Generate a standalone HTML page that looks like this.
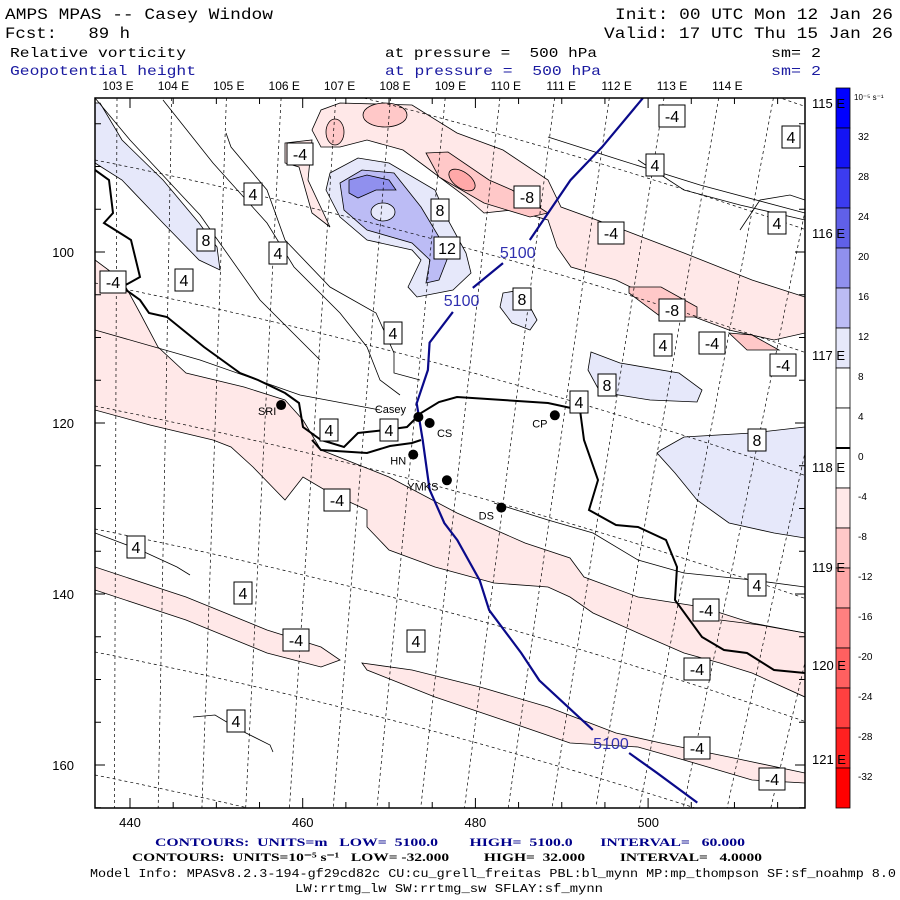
<!DOCTYPE html>
<html><head><meta charset="utf-8"><style>
html,body{margin:0;padding:0;background:#fff;width:900px;height:900px;overflow:hidden;position:relative;}
svg{display:block;position:absolute;left:0;top:0;}
svg text{white-space:pre;}
.mono{font-family:"Liberation Mono","DejaVu Sans Mono",monospace;}
.sans{font-family:"Liberation Sans",sans-serif;}
.serif{font-family:"Liberation Serif",serif;}
</style></head><body>
<svg id="chart" width="900" height="900" viewBox="0 0 900 900" xmlns="http://www.w3.org/2000/svg">
<defs><clipPath id="plotclip"><rect x="95" y="98" width="710" height="710"/></clipPath></defs>
<rect x="0" y="0" width="900" height="900" fill="#fff"/>

<g class="mono" font-size="16" fill="#000">
<text x="5" y="19" textLength="268" lengthAdjust="spacingAndGlyphs">AMPS MPAS -- Casey Window</text>
<text x="615" y="19" textLength="278" lengthAdjust="spacingAndGlyphs">Init: 00 UTC Mon 12 Jan 26</text>
<text x="5" y="38" textLength="125" lengthAdjust="spacingAndGlyphs">Fcst:   89 h</text>
<text x="604" y="38" textLength="289" lengthAdjust="spacingAndGlyphs">Valid: 17 UTC Thu 15 Jan 26</text>
</g>
<g class="mono" font-size="14">
<text x="10" y="57" textLength="176" lengthAdjust="spacingAndGlyphs">Relative vorticity</text>
<text x="385" y="57" textLength="212" lengthAdjust="spacingAndGlyphs">at pressure =  500 hPa</text>
<text x="771" y="57" textLength="50" lengthAdjust="spacingAndGlyphs">sm= 2</text>
<text x="10" y="75" fill="#1a1aa0" textLength="186" lengthAdjust="spacingAndGlyphs">Geopotential height</text>
<text x="385" y="75" fill="#1a1aa0" textLength="216" lengthAdjust="spacingAndGlyphs">at pressure =  500 hPa</text>
<text x="771" y="75" fill="#1a1aa0" textLength="50" lengthAdjust="spacingAndGlyphs">sm= 2</text>
</g>

<g clip-path="url(#plotclip)">
<g stroke="#000" stroke-width="0.8">
<polygon fill="#ffe8e8" points="95,260 122,280 140,313 158,347 186,373 244,387 285,400 303,420 321,450 389,477 457,513 525,543 570,558 584,577 638,597 702,607 752,623 805,633 805,697 752,673 720,663 684,653 638,633 593,613 570,597 548,587 494,583 435,567 389,550 367,527 367,510 330,493 303,477 285,500 253,467 231,447 213,440 150,425 95,410"/>
<polygon fill="#ffe8e8" points="95,567 186,597 267,630 321,647 340,660 321,667 267,653 186,620 95,590"/>
<polygon fill="#ffe8e8" points="362,663 412,670 480,687 548,707 616,733 661,743 729,757 805,773 805,783 752,780 684,760 638,747 570,743 503,720 435,697 367,670"/>
<polygon fill="#ffe8e8" points="312,130 321,110 340,103 412,105 457,133 503,150 548,180 561,207 616,227 684,253 752,280 805,297 805,333 774,340 729,330 684,313 616,280 571,267 557,247 548,220 512,210 484,213 466,197 426,167 403,150 367,140 340,147 321,147"/>
<polygon fill="#ffe8e8" points="285,143 312,140 308,180 330,227 312,213 299,167 285,163"/>
<ellipse fill="#ffc8c8" cx="385" cy="115" rx="22" ry="12"/>
<ellipse fill="#ffc8c8" cx="335" cy="132" rx="9" ry="13"/>
<polygon fill="#ffc8c8" points="426,153 448,152 489,180 512,190 548,213 530,217 484,203 439,177"/>
<ellipse fill="#ffa8a8" cx="462" cy="180" rx="15" ry="8" transform="rotate(35 462 180)"/>
<polygon fill="#ffc8c8" points="629,287 661,287 697,307 697,317 661,317 629,293"/>
<polygon fill="#ffc8c8" points="729,333 752,335 779,350 747,350"/>
<polygon fill="#e6e8fa" points="100,103 122,140 163,180 199,223 217,247 220,270 199,260 163,223 122,180 95,163 95,103"/>
<polygon fill="#e6e8fa" points="330,173 358,158 389,163 435,190 448,220 466,253 471,273 453,290 417,297 408,287 421,260 412,250 367,240 340,217 326,190"/>
<polygon fill="#bcbcf5" points="340,183 362,170 394,173 421,207 439,237 448,257 439,280 426,283 430,260 412,243 367,230 344,210"/>
<polygon fill="#9090ee" points="349,180 367,175 389,180 396,190 376,190 358,198 349,193"/>
<ellipse fill="#e6e8fa" cx="383" cy="212" rx="12" ry="9"/>
<polygon fill="#e6e8fa" points="503,293 521,290 537,320 530,330 512,323 500,307"/>
<polygon fill="#e6e8fa" points="591,352 620,363 679,373 702,390 697,402 650,400 600,392 588,370"/>
<polygon fill="#e6e8fa" points="661,450 684,437 752,433 805,427 805,538 774,533 729,523 697,500 675,473 657,453"/>
</g>

<g fill="none" stroke="#000" stroke-width="0.8">
<polyline points="226,133 231,147 267,190 285,240 330,287 376,313 394,353 394,373 420,380"/>
<polyline points="163,100 213,163 267,223 294,267 340,313 367,347 380,380 400,395"/>
<polyline points="548,137 620,160 700,185 805,213"/>
<polyline points="638,160 684,190 740,205 805,220"/>
<polyline points="95,533 140,550 177,567 190,575"/>
<polyline points="494,503 548,520 593,533 638,560 684,573 752,580 805,587"/>
<polyline points="720,620 760,625 805,633"/>
<polyline points="193,717 215,715 240,730 270,745 273,752"/>
<polyline points="95,330 200,360 300,395 380,410"/>
<polyline points="740,230 760,200 790,195 805,200"/>
<polyline points="95,98 130,140 200,215 260,300 320,360"/>
</g>

<g id="gridlines"></g>
<g id="coasts" fill="none" stroke="#000" stroke-width="2">
<polyline points="95,170 109,180 113,213 104,223 131,240 140,277 122,287 140,300 149,313 167,317 204,347 240,373 258,380 285,393 299,403 303,427 321,440 344,447 358,433 385,430 407,427 421,413 439,402 457,397 503,400 548,403 580,410 584,440 598,480 589,510 616,525 638,527 666,540 677,567 675,600 702,637 724,650 747,653 774,670 805,673"/>
<polyline points="312,440 321,450 367,453 390,446 412,443 421,440"/>
</g>
<g id="heightline"></g>
<g id="stations"></g>
<g id="clabels"></g>
</g>
<rect x="95" y="98" width="710" height="710" fill="none" stroke="#000" stroke-width="1.5"/>
<g id="axes"></g>
<g id="colorbar"></g>

<g>
<text class="serif" x="155" y="846" font-size="12" font-weight="bold" fill="#00008b" textLength="590" lengthAdjust="spacingAndGlyphs">CONTOURS:  UNITS=m   LOW=  5100.0        HIGH=  5100.0       INTERVAL=   60.000</text>
<text class="serif" x="132" y="861" font-size="12" font-weight="bold" fill="#000" textLength="630" lengthAdjust="spacingAndGlyphs">CONTOURS:  UNITS=10⁻⁵ s⁻¹   LOW= -32.000         HIGH=  32.000         INTERVAL=   4.0000</text>
<text class="mono" x="90" y="877" font-size="12" fill="#000" textLength="806" lengthAdjust="spacingAndGlyphs">Model Info: MPASv8.2.3-194-gf29cd82c CU:cu_grell_freitas PBL:bl_mynn MP:mp_thompson SF:sf_noahmp 8.0</text>
<text class="mono" x="295" y="892" font-size="12" fill="#000" textLength="308" lengthAdjust="spacingAndGlyphs">LW:rrtmg_lw SW:rrtmg_sw SFLAY:sf_mynn</text>
</g>

<script>
// ---- data ----
const xTicks = [440, 460, 480, 500];
const yTicks = [100, 120, 140, 160];
const lonLabels = ["103 E","104 E","105 E","106 E","107 E","108 E","109 E","110 E","111 E","112 E","113 E","114 E"];
const latLabels = ["115 E","116 E","117 E","118 E","119 E","120 E","121 E"];
const heightX = [499.4,494.7,491.0,486.3, 483.2,479.7, 477.4,474.7,474.5,473.2,473.9,474.7,476.4,477.9,480.5,481.6,485.3,487.4,493.6, 497.8,501.0,505.7];
const heightY = [82.0,87.7,91.6,98.6, 101.3,104.2, 107.0,110.6,113.8,117.7,122.0,127.8,131.7,133.7,138.4,141.9,146.9,150.1,155.9, 158.6,160.9,164.4];
const heightSeg = [0,0,0,0, 1,1, 2,2,2,2,2,2,2,2,2,2,2,2,2, 3,3,3];
const heightLabelX = [484.9, 478.4, 495.7];
const heightLabelY = [100.0, 105.6, 157.4];
const stationNames = ["SRI","Casey","CS","HN","YMKS","DS","CP"];
const stationX = [457.5, 473.4, 474.7, 472.8, 476.7, 483.0, 489.2];
const stationY = [117.9, 119.3, 120.0, 123.7, 126.7, 129.9, 119.1];
const cbarLevels = [32,28,24,20,16,12,8,4,0,-4,-8,-12,-16,-20,-24,-28,-32];
const cbarColors = ["#0000ff","#1414f5","#3c3cf0","#6060e8","#9090ee","#bcbcf5","#e6e8fa","#ffffff","#ffffff","#ffffff","#ffe8e8","#ffc8c8","#ffa8a8","#ff8080","#ff6060","#ff4040","#ff2020","#ff0000"];
const contourLabelText = ["-4","-4","-4","-4","-4","-4","-4","-4","-4","-4","-4","-4","4","4","4","4","4","4","4","4","4","4","4","4","4","4","4","4","8","8","8","8","8","-8","-8","12"];
const contourLabelX = [300,672,113,611,337,296,712,706,697,697,772,783, 791,655,253,278,184,393,777,663,579,329,389,136,243,416,236,757, 440,206,522,607,757, 527,672, 447];
const contourLabelY = [154,116,282,233,500,640,343,610,669,748,779,365, 137,165,194,253,280,333,223,345,402,430,430,547,593,641,721,585, 210,240,299,385,440, 197,310, 248];

const X0 = 130, XS = 8.635, Y0 = 252, YS = 8.55;
function sx(v){ return X0 + (v - 440) * XS; }
function sy(v){ return Y0 + (v - 100) * YS; }
const NS = "http://www.w3.org/2000/svg";
function mk(tag, attrs, parent){ const e = document.createElementNS(NS, tag); for (const k in attrs) e.setAttribute(k, attrs[k]); parent.appendChild(e); return e; }

const grid = document.getElementById('gridlines');
for (let k = -1; k < 17; k++) {
  const xt = 117 + 54.7 * k, xb = 0.8 * xt + 20.8;
  const l = mk('line', {x1: xt, y1: 98, x2: xb, y2: 808, stroke: '#000', 'stroke-width': 0.7, 'stroke-dasharray': '3,3'}, grid);
  
  
}
for (let y0 = -86; y0 <= 800; y0 += 123) {
  let pts = [];
  for (let x = 95; x <= 805; x += 5) {
    const y = y0 + 0.2 * (x - 95) + 0.0001 * (x - 95) * (x - 95);
    if (y >= 90 && y <= 815) pts.push(x + ',' + y.toFixed(1));
  }
  if (pts.length < 2) continue;
  const p = mk('polyline', {points: pts.join(' '), fill: 'none', stroke: '#000', 'stroke-width': 0.7, 'stroke-dasharray': '3,3'}, grid);
  
  
}

const hl = document.getElementById('heightline');
const segs = {};
for (let i = 0; i < heightX.length; i++) {
  const py = Math.max(96, Math.min(810, sy(heightY[i])));
  (segs[heightSeg[i]] = segs[heightSeg[i]] || []).push(sx(heightX[i]).toFixed(1) + ',' + py.toFixed(1));
}
for (const s in segs) {
  const pl = mk('polyline', {points: segs[s].join(' '), fill: 'none', stroke: '#0a0a8a', 'stroke-width': 2.2}, hl);
  
  
}
for (let i = 0; i < heightLabelX.length; i++) {
  const t = mk('text', {x: sx(heightLabelX[i]), y: sy(heightLabelY[i]) + 6, 'font-size': 16, fill: '#3030b0', 'text-anchor': 'middle', 'font-family': 'Liberation Sans, sans-serif'}, hl);
  t.textContent = '5100';
  
  
}

const st = document.getElementById('stations');
const off = {SRI:[-14,10], Casey:[-28,-4], CS:[15,14], HN:[-15,10], YMKS:[-24,10], DS:[-15,12], CP:[-15,12]};
for (let i = 0; i < stationNames.length; i++) {
  const cx = sx(stationX[i]), cy = sy(stationY[i]);
  const c = mk('circle', {cx: cx, cy: cy, r: 5, fill: '#000'}, st);
  
  
  const o = off[stationNames[i]];
  const t = mk('text', {x: cx + o[0], y: cy + o[1], 'font-size': 11, 'text-anchor': 'middle', fill: '#000', 'font-family': 'Liberation Sans, sans-serif'}, st);
  t.textContent = stationNames[i];
  
  
}

const cl = document.getElementById('clabels');
for (let i = 0; i < contourLabelText.length; i++) {
  const s = contourLabelText[i], w = s.length > 1 ? 26 : 18;
  const r = mk('rect', {x: contourLabelX[i] - w / 2, y: contourLabelY[i] - 11, width: w, height: 22, fill: '#fff', stroke: '#000', 'stroke-width': 1}, cl);
  
  
  const t = mk('text', {x: contourLabelX[i], y: contourLabelY[i] + 6, 'font-size': 16, 'text-anchor': 'middle', fill: '#000', 'font-family': 'Liberation Sans, sans-serif'}, cl);
  t.textContent = s;
  
  
}

const ax = document.getElementById('axes');
for (let v = 435; v <= 520; v += 5) {
  const x = sx(v); if (x < 95 || x > 805) continue;
  const major = xTicks.indexOf(v) >= 0, L = major ? 10 : 6;
  mk('line', {x1: x, y1: 808, x2: x, y2: 808 - L, stroke: '#000', 'stroke-width': 1}, ax);
  mk('line', {x1: x, y1: 98, x2: x, y2: 98 + L, stroke: '#000', 'stroke-width': 1}, ax);
}
for (let v = 80; v <= 165; v += 5) {
  const y = sy(v); if (y < 98 || y > 808) continue;
  const major = yTicks.indexOf(v) >= 0, L = major ? 10 : 6;
  mk('line', {x1: 95, y1: y, x2: 95 + L, y2: y, stroke: '#000', 'stroke-width': 1}, ax);
  mk('line', {x1: 805, y1: y, x2: 805 - L, y2: y, stroke: '#000', 'stroke-width': 1}, ax);
}
xTicks.forEach(v => {
  const t = mk('text', {x: sx(v), y: 827, 'font-size': 13, 'text-anchor': 'middle', 'font-family': 'Liberation Sans, sans-serif'}, ax);
  t.textContent = v;
  
  
});
yTicks.forEach(v => {
  const t = mk('text', {x: 74, y: sy(v) + 5, 'font-size': 13, 'text-anchor': 'end', 'font-family': 'Liberation Sans, sans-serif'}, ax);
  t.textContent = v;
  
  
});
lonLabels.forEach((s, i) => {
  const t = mk('text', {x: 118 + 55.4 * i, y: 90, 'font-size': 12, 'text-anchor': 'middle', 'font-family': 'Liberation Sans, sans-serif'}, ax);
  t.textContent = s;
  
  
});

const cb = document.getElementById('colorbar');
const cbTop = 88, bh = 40;
cbarColors.forEach((c, i) => {
  const r = mk('rect', {x: 836, y: cbTop + i * bh, width: 14, height: bh, fill: c, stroke: '#000', 'stroke-width': 0.8}, cb);
  
  
});
mk('line', {x1: 836, y1: cbTop + 9 * bh, x2: 850, y2: cbTop + 9 * bh, stroke: '#000', 'stroke-width': 2}, cb);
cbarLevels.forEach((v, i) => {
  const t = mk('text', {x: 858, y: cbTop + (i + 1) * bh + 12, 'font-size': 10, 'font-family': 'Liberation Sans, sans-serif'}, cb);
  t.textContent = v;
  
  
});
const u = mk('text', {x: 854, y: 100, 'font-size': 8, 'font-family': 'Liberation Sans, sans-serif'}, cb);
u.textContent = '10⁻⁵ s⁻¹';


const latY = [108, 238, 360, 472, 572, 670, 764];
latLabels.forEach((s, i) => {
  const t = mk('text', {x: 812, y: latY[i], 'font-size': 13, 'font-family': 'Liberation Sans, sans-serif'}, cb);
  t.textContent = s;
  
  
});
</script>
</svg>
</body></html>
